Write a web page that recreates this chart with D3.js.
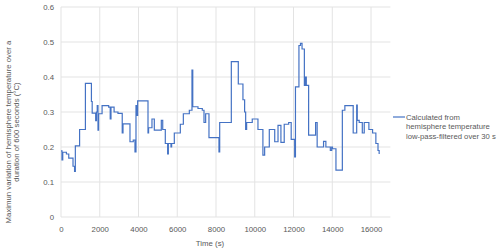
<!DOCTYPE html>
<html>
<head>
<meta charset="utf-8">
<script src="https://cdn.jsdelivr.net/npm/d3@7"></script>
<style>
  body { margin: 0; background: #fff; }
  text { font-family: "Liberation Sans", Arial, sans-serif; fill: #595959; }
</style>
</head>
<body>
<div id="chart"></div>
<script>
// step data: time (s) where each level starts, and the level (°C)
const times = [0, 50, 90, 280, 400, 620, 700, 740, 960, 1260, 1570, 1610, 1790, 1830, 1870, 1910, 1940, 2120, 2460, 2540, 2580, 2740, 2940, 3160, 3200,
  3560, 3730, 3818, 3870, 3900, 3956, 4490, 4520, 4695, 4816, 5177, 5250, 5383, 5504, 5540, 5676, 5710, 5848, 6158, 6314, 6623, 6760, 6800,
  7070, 7293, 7380, 7465, 7637, 8153, 8190, 8790, 9150, 9390, 9477, 9530, 9580, 9870, 10165, 10420,
  10510, 10750, 11030, 11200, 11350, 11520, 11750, 11880, 12060, 12100, 12280, 12360, 12440, 12560, 12620, 12660, 12780, 13140, 13220, 13550, 13670, 13900,
  13970, 14010, 14190, 14520, 14650, 15080, 15260, 15290, 15390, 15550, 15650, 15890, 16080, 16250, 16360, 16420]
const values = [0.189, 0.163, 0.185, 0.18, 0.168, 0.145, 0.13, 0.203, 0.25, 0.382, 0.33, 0.297, 0.275, 0.3, 0.318, 0.248, 0.295, 0.318, 0.314, 0.28, 0.314, 0.3, 0.296, 0.24, 0.266,
  0.215, 0.22, 0.186, 0.318, 0.29, 0.332, 0.24, 0.255, 0.28, 0.248, 0.276, 0.25, 0.21, 0.18, 0.21, 0.2, 0.21, 0.24, 0.265, 0.295, 0.305, 0.42, 0.315,
  0.31, 0.305, 0.27, 0.295, 0.227, 0.186, 0.27, 0.444, 0.38, 0.335, 0.3, 0.25, 0.27, 0.28, 0.25, 0.177,
  0.2, 0.25, 0.215, 0.262, 0.213, 0.265, 0.27, 0.222, 0.172, 0.372, 0.49, 0.496, 0.48, 0.376, 0.4, 0.376, 0.234, 0.27, 0.2, 0.216, 0.2, 0.19,
  0.2, 0.195, 0.134, 0.305, 0.318, 0.24, 0.32, 0.276, 0.27, 0.24, 0.27, 0.25, 0.24, 0.21, 0.19, 0.18]
const xTicks = [0, 2000, 4000, 6000, 8000, 10000, 12000, 14000, 16000]
const yTicks = [0, 0.1, 0.2, 0.3, 0.4, 0.5, 0.6]
const seriesName = ["Calculated from", "hemisphere temperature", "low-pass-filtered over 30 s"]
const yTitle = ["Maximun variation of hemisphere temperature over a", "duration of 600 seconds (°C)"]

let width = 500, height = 251
let padLeft = 61, padRight = 390.4, padTop = 7, padBottom = 217

let svg = d3.select("#chart").append("svg").attr("width", width).attr("height", height)

let xScale = d3.scaleLinear().domain([0, 17000]).range([padLeft, padRight])
let yScale = d3.scaleLinear().domain([0, 0.6]).range([padBottom, padTop])

// gridlines
svg.append("g").selectAll("line").data(yTicks).enter().append("line")
  .attr("x1", padLeft).attr("x2", padRight)
  .attr("y1", d => yScale(d)).attr("y2", d => yScale(d))
  .attr("stroke", "#e3e3e3").attr("stroke-width", 1)
svg.append("g").selectAll("line").data(xTicks).enter().append("line")
  .attr("x1", d => xScale(d)).attr("x2", d => xScale(d))
  .attr("y1", padTop).attr("y2", padBottom)
  .attr("stroke", "#e3e3e3").attr("stroke-width", 1)

// axes (labels only)
let axisX = d3.axisBottom(xScale).tickValues(xTicks).tickSize(0).tickPadding(9).tickFormat(d3.format("d"))
let gx = svg.append("g").attr("transform", "translate(0," + padBottom + ")").call(axisX)
gx.select(".domain").remove()
gx.selectAll("text").style("font-size", "7.8px").attr("fill", "#595959").style("font-family", "'Liberation Sans', Arial, sans-serif")

let axisY = d3.axisLeft(yScale).tickValues(yTicks).tickSize(0).tickPadding(7).tickFormat(d => d === 0 ? "0" : d3.format(".1f")(d))
let gy = svg.append("g").attr("transform", "translate(" + padLeft + ",0)").call(axisY)
gy.select(".domain").remove()
gy.selectAll("text").style("font-size", "7.8px").attr("fill", "#595959").style("font-family", "'Liberation Sans', Arial, sans-serif")

// the series
let data = times.map((t, i) => [t, values[i]])
let line = d3.line().x(d => xScale(d[0])).y(d => yScale(d[1])).curve(d3.curveStepAfter)
svg.append("path").datum(data).attr("d", line)
  .attr("fill", "none").attr("stroke", "#4472C4").attr("stroke-width", 1.2)

// axis titles
svg.append("text").attr("x", 210).attr("y", 246).attr("text-anchor", "middle").style("font-size", "7.8px").text("Time (s)")
svg.selectAll(".ytitle").data(yTitle).enter().append("text").attr("class", "ytitle")
  .attr("transform", (d, i) => "translate(" + (10.5 + i * 8.8) + ",132) rotate(-90)")
  .attr("text-anchor", "middle").style("font-size", "7.8px").text(d => d)

// legend
let legend = svg.append("g")
legend.append("line").attr("x1", 393).attr("x2", 405).attr("y1", 117).attr("y2", 117)
  .attr("stroke", "#4472C4").attr("stroke-width", 1.2)
legend.selectAll("text").data(seriesName).enter().append("text")
  .attr("x", 406).attr("y", (d, i) => 119.8 + i * 9.5)
  .style("font-size", "7.7px").text(d => d)
</script>
</body>
</html>
